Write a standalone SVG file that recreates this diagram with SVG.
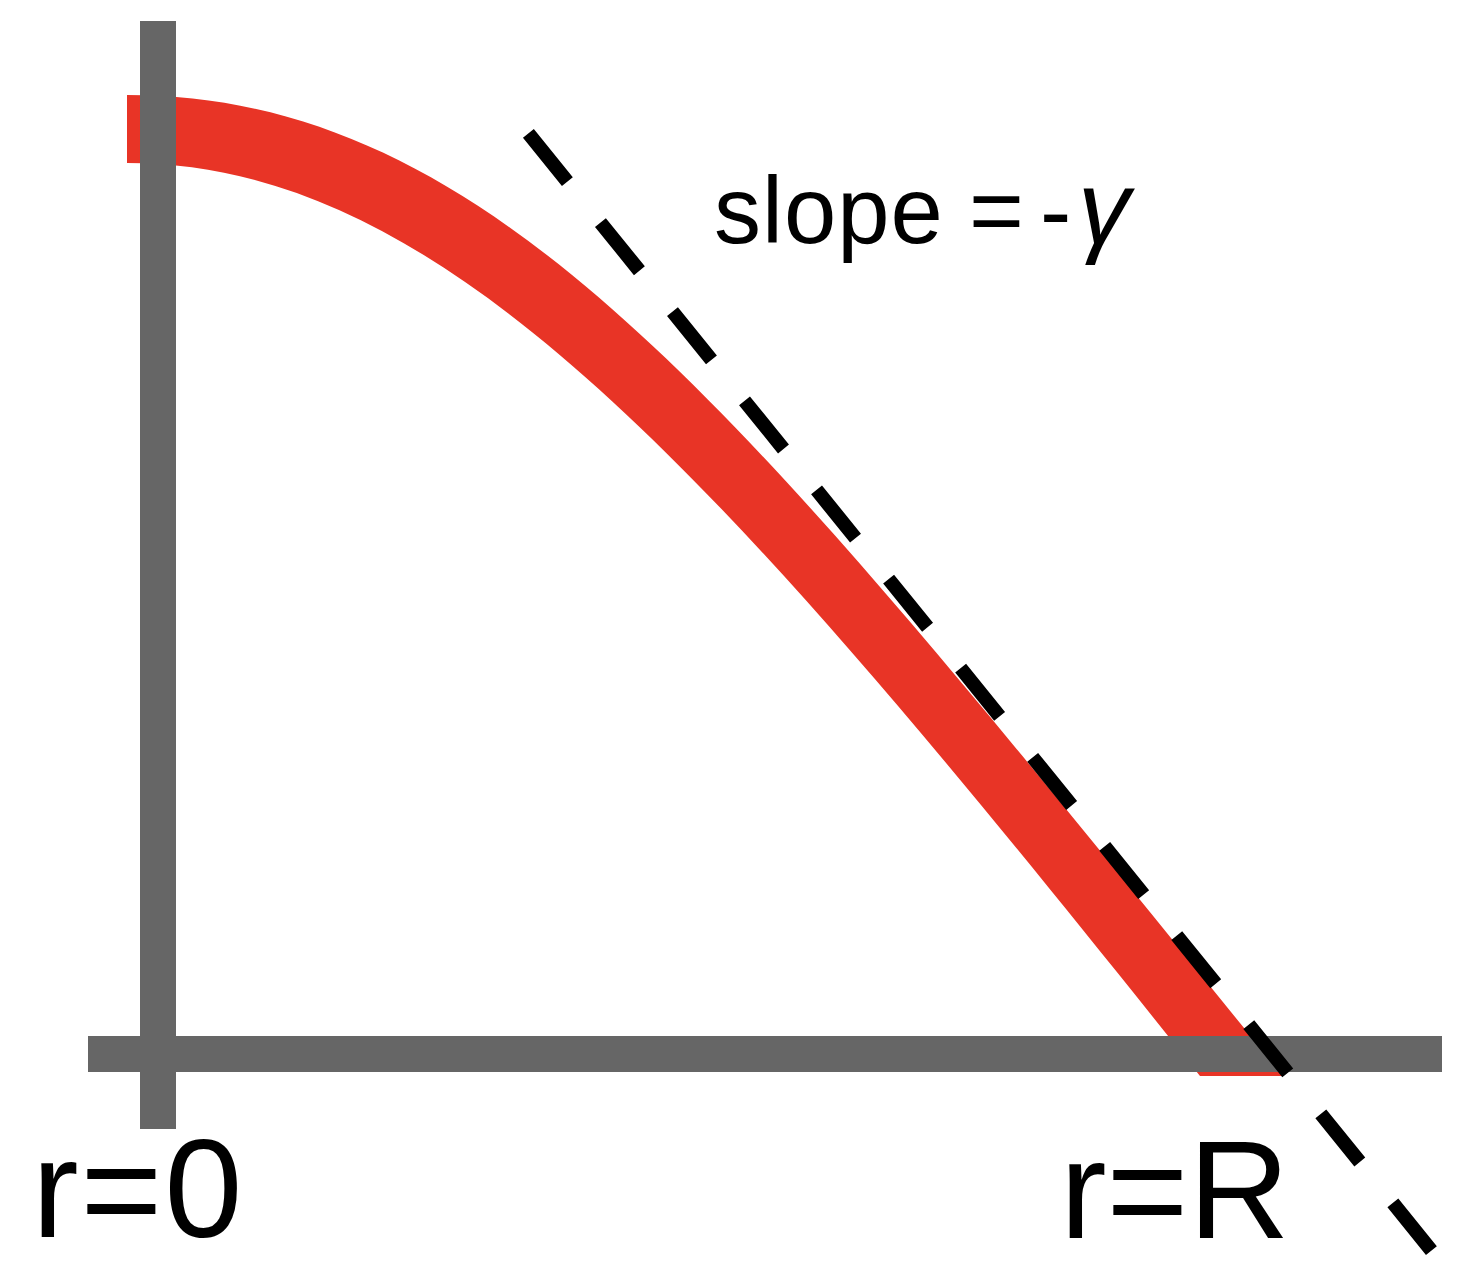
<svg xmlns="http://www.w3.org/2000/svg" width="1470" height="1288" viewBox="0 0 1470 1288">
  <style>
    .axis { fill: #666666; }
    .curve { fill: #E83426; }
    .tangent { fill: none; stroke: #000000; stroke-width: 14; stroke-dasharray: 62 52.6; }
    .label { font-family: "Liberation Sans", Arial, sans-serif; fill: #000000; }
  </style>
  <rect width="1470" height="1288" fill="#ffffff"/>
  <g id="curve">
    <path class="curve" d="M127,95 C507,95 763,436.4 1283,1076 L1200,1076 C725,480 450,163 127,163 Z"/>
  </g>
  <g id="axes">
    <rect id="y-axis" class="axis" x="140" y="21" width="36" height="1108"/>
    <rect id="x-axis" class="axis" x="88" y="1036" width="1354" height="36"/>
  </g>
  <g id="connectors">
    <line class="tangent" x1="528.4" y1="133.4" x2="1431.4" y2="1250.6"/>
  </g>
  <g id="slope-label">
    <text class="label" x="714" y="243" font-size="94" letter-spacing="1">slope <tspan x="969" letter-spacing="0">=</tspan> <tspan x="1040" letter-spacing="0">-</tspan><tspan x="1078" font-size="104" font-style="italic" letter-spacing="0">γ</tspan></text>
  </g>
  <g id="r0-label">
    <text class="label" x="32" y="1237" font-size="140" letter-spacing="2">r=0</text>
  </g>
  <g id="rR-label">
    <text class="label" x="1060" y="1238" font-size="140">r=R</text>
  </g>
</svg>
